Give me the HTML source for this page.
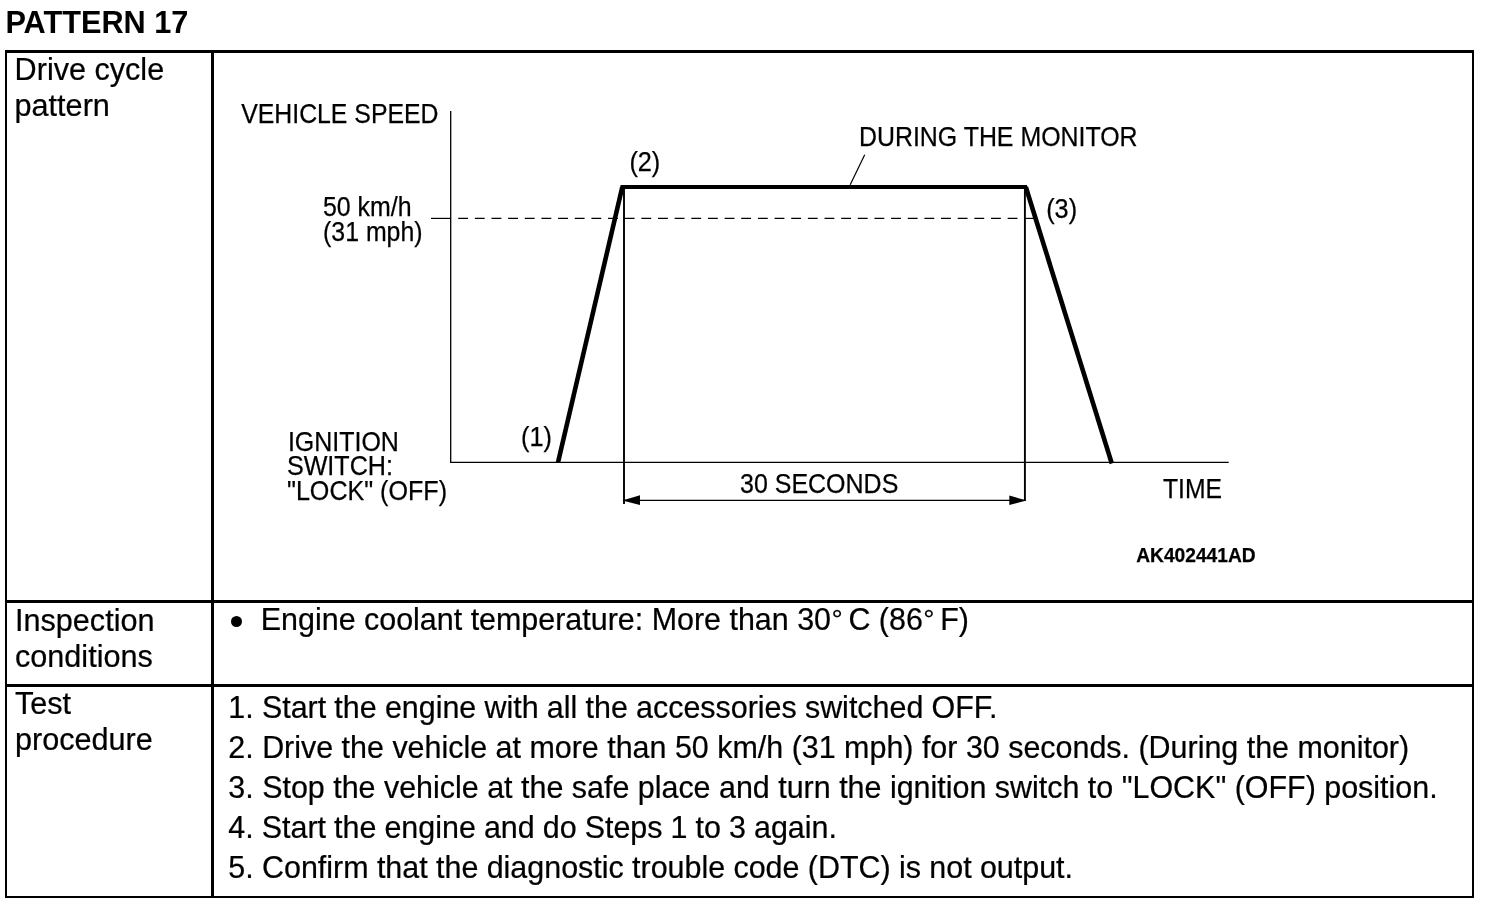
<!DOCTYPE html>
<html lang="en">
<head>
<meta charset="utf-8">
<title>PATTERN 17</title>
<style>
html,body{margin:0;padding:0;background:#fff;}
body{width:1504px;height:908px;position:relative;overflow:hidden;color:#000;
  font-family:"Liberation Sans",Arial,Helvetica,sans-serif;}
.cell,.step{-webkit-text-stroke:.22px #000;}
h1.title{position:absolute;margin:0;left:5.4px;top:0;font-size:30.7px;line-height:36px;font-weight:bold;white-space:pre;}
.bd{position:absolute;background:#000;}
.cell{position:absolute;font-size:30.6px;line-height:36px;white-space:pre;margin:0;}
.step{position:absolute;font-size:30.44px;line-height:40px;white-space:pre;margin:0;left:228.3px;}
.deg{font-size:.92em;position:relative;top:-.6px;margin:0 5.7px 0 .5px;}
svg{position:absolute;left:0;top:0;}
svg text{font-family:"Liberation Sans",Arial,Helvetica,sans-serif;fill:#000;stroke:#000;stroke-width:.25px;}
</style>
</head>
<body>
<h1 class="title" style="top:5px">PATTERN 17</h1>

<!-- table frame -->
<div class="bd" style="left:5px;top:50px;width:1469.4px;height:3px"></div>
<div class="bd" style="left:5px;top:50px;width:2.3px;height:848px"></div>
<div class="bd" style="left:1472px;top:50px;width:2.4px;height:848px"></div>
<div class="bd" style="left:5px;top:896px;width:1469.4px;height:2px"></div>
<div class="bd" style="left:211px;top:50px;width:3px;height:848px"></div>
<div class="bd" style="left:5px;top:599.7px;width:1469.4px;height:3.2px"></div>
<div class="bd" style="left:5px;top:684px;width:1469.4px;height:2.6px"></div>

<!-- left column -->
<div class="cell" style="left:14.6px;top:51.2px">Drive cycle
pattern</div>
<div class="cell" style="left:15px;top:603px;line-height:35.5px">Inspection
conditions</div>
<div class="cell" style="left:15px;top:686px;line-height:35.5px">Test
procedure</div>

<!-- right column rows 2 and 3 -->
<div class="bd" style="left:231px;top:616px;width:11px;height:11px;border-radius:50%"></div>
<div class="step" style="left:260.8px;top:598.8px">Engine coolant temperature: More than 30<span class="deg">°</span>C (86<span class="deg">°</span>F)</div>
<ol style="list-style:none;margin:0;padding:0">
<li class="step" style="top:686.6px;word-spacing:-0.25px">1. Start the engine with all the accessories switched OFF.</li>
<li class="step" style="top:726.6px">2. Drive the vehicle at more than 50 km/h (31 mph) for 30 seconds. (During the monitor)</li>
<li class="step" style="top:766.6px">3. Stop the vehicle at the safe place and turn the ignition switch to "LOCK" (OFF) position.</li>
<li class="step" style="top:806.6px;word-spacing:-0.4px">4. Start the engine and do Steps 1 to 3 again.</li>
<li class="step" style="top:846.6px;word-spacing:-0.12px">5. Confirm that the diagnostic trouble code (DTC) is not output.</li>
</ol>

<!-- chart -->
<svg width="1504" height="908" viewBox="0 0 1504 908">
  <g stroke="#000" fill="none" stroke-linecap="butt">
    <!-- axes -->
    <path d="M450.7 111 V462.4 H1228.7" stroke-width="1.3"/>
    <!-- 50 km/h tick + dashed line -->
    <path d="M431 218.4 H450.7" stroke-width="1.2"/>
    <path d="M458.2 218.4 H1020" stroke-width="1.2" stroke-dasharray="9.85 6.8"/>
    <path d="M1025 218.4 H1034" stroke-width="1.2"/>
    <!-- thin verticals -->
    <path d="M624 187 V504 M1024.9 187 V501" stroke-width="1.9"/>
    <!-- dimension line -->
    <path d="M624 500.4 H1025" stroke-width="1.2"/>
    <!-- leader -->
    <path d="M864.7 154.7 L850.2 184.8" stroke-width="1.2"/>
    <!-- speed profile -->
    <path d="M558 462.6 L622.3 187" stroke-width="4.6"/>
    <path d="M620.5 187 H1027" stroke-width="3.9"/>
    <path d="M1025.8 187 L1111.8 463.5" stroke-width="4.6"/>
  </g>
  <g fill="#000" stroke="none">
    <path d="M622.3 500.4 L640 495.2 V505 Z"/>
    <path d="M1026.4 500.6 L1009.3 495.4 V504.9 Z"/>
  </g>
  <g font-size="27.2">
    <text x="241.2" y="122.7" textLength="197.3" lengthAdjust="spacingAndGlyphs">VEHICLE SPEED</text>
    <text x="323" y="215.8" textLength="88.6" lengthAdjust="spacingAndGlyphs">50 km/h</text>
    <text x="323" y="240.8" textLength="99.6" lengthAdjust="spacingAndGlyphs">(31 mph)</text>
    <text x="859" y="145.8" textLength="278.5" lengthAdjust="spacingAndGlyphs">DURING THE MONITOR</text>
    <text x="629.4" y="171" textLength="30.9" lengthAdjust="spacingAndGlyphs">(2)</text>
    <text x="1046.2" y="218" textLength="30.9" lengthAdjust="spacingAndGlyphs">(3)</text>
    <text x="521" y="445.5" textLength="30.9" lengthAdjust="spacingAndGlyphs">(1)</text>
    <text x="740" y="492.8" textLength="158.3" lengthAdjust="spacingAndGlyphs">30 SECONDS</text>
    <text x="1163" y="497.8" textLength="59" lengthAdjust="spacingAndGlyphs">TIME</text>
    <text x="287.9" y="450.6" textLength="111" lengthAdjust="spacingAndGlyphs">IGNITION</text>
    <text x="286.9" y="474.6" textLength="106" lengthAdjust="spacingAndGlyphs">SWITCH:</text>
    <text x="287" y="500.4" textLength="160" lengthAdjust="spacingAndGlyphs">"LOCK" (OFF)</text>
  </g>
  <text x="1136.2" y="561.6" font-size="19.5" font-weight="bold" textLength="119.5" lengthAdjust="spacingAndGlyphs">AK402441AD</text>
</svg>
</body>
</html>
